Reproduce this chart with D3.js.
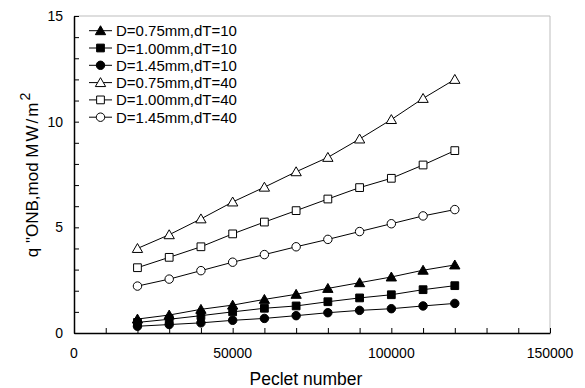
<!DOCTYPE html>
<html>
<head>
<meta charset="utf-8">
<script src="https://cdn.jsdelivr.net/npm/d3@7"></script>
<style>
  body { margin: 0; background: #fff; }
  text { font-family: Arial, "Liberation Sans", sans-serif; }
</style>
</head>
<body>
<script>
const pecletNumbers = [20000, 30000, 40000, 50000, 60000, 70000, 80000, 90000, 100000, 110000, 120000];

const d075dT10 = [0.66, 0.85, 1.12, 1.32, 1.59, 1.83, 2.11, 2.38, 2.65, 2.97, 3.22];
const d100dT10 = [0.50, 0.65, 0.82, 1.00, 1.17, 1.28, 1.48, 1.66, 1.81, 2.05, 2.24];
const d145dT10 = [0.32, 0.40, 0.48, 0.60, 0.69, 0.82, 0.96, 1.07, 1.15, 1.28, 1.40];
const d075dT40 = [4.00, 4.65, 5.40, 6.20, 6.90, 7.63, 8.31, 9.18, 10.10, 11.10, 12.00];
const d100dT40 = [3.09, 3.58, 4.08, 4.69, 5.25, 5.79, 6.34, 6.88, 7.32, 7.95, 8.63];
const d145dT40 = [2.22, 2.55, 2.95, 3.35, 3.71, 4.08, 4.43, 4.80, 5.17, 5.54, 5.84];

const seriesNames = ["D=0.75mm,dT=10", "D=1.00mm,dT=10", "D=1.45mm,dT=10",
                     "D=0.75mm,dT=40", "D=1.00mm,dT=40", "D=1.45mm,dT=40"];
const seriesValues = [d075dT10, d100dT10, d145dT10, d075dT40, d100dT40, d145dT40];
const seriesShapes = ["triangle", "square", "circle", "triangle", "square", "circle"];
const seriesFilled = [true, true, true, false, false, false];

const xTickLabels = [0, 50000, 100000, 150000];
const yTickLabels = [0, 5, 10, 15];

function main(){
    const width = 585, height = 388;
    const left = 74, right = 550, top = 16, bottom = 333;

    const svg = d3.select("body").append("svg")
        .attr("width", width)
        .attr("height", height);

    const x = d3.scaleLinear().domain([0, 150000]).range([left, right]);
    const y = d3.scaleLinear().domain([0, 15]).range([bottom, top]);

    // gray frame on top and right
    svg.append("path")
        .attr("d", `M${left},${top}H${right}V${bottom}`)
        .attr("fill", "none")
        .attr("stroke", "#bdbdbd")
        .attr("stroke-width", 1);

    // axes, ticks pointing inward
    const xAxis = svg.append("g")
        .attr("transform", `translate(0,${bottom})`)
        .call(d3.axisBottom(x).tickValues(d3.range(0, 150001, 10000))
            .tickSizeInner(-5).tickSizeOuter(0).tickFormat(""));
    const yAxis = svg.append("g")
        .attr("transform", `translate(${left},0)`)
        .call(d3.axisLeft(y).tickValues(d3.range(0, 16, 1))
            .tickSizeInner(-5).tickSizeOuter(0).tickFormat(""));
    [xAxis, yAxis].forEach(g => {
        g.select(".domain").attr("stroke", "#000").attr("stroke-width", 1.5);
        g.selectAll(".tick line").attr("stroke", "#000");
    });

    svg.append("g").selectAll("text")
        .data(xTickLabels).enter().append("text")
        .attr("x", d => x(d))
        .attr("y", 358)
        .attr("text-anchor", "middle")
        .attr("font-size", "14px")
        .text(d => d);

    svg.append("g").selectAll("text")
        .data(yTickLabels).enter().append("text")
        .attr("x", 63)
        .attr("y", d => y(d) + 5)
        .attr("text-anchor", "end")
        .attr("font-size", "14px")
        .text(d => d);

    // axis titles
    svg.append("text")
        .attr("x", 306)
        .attr("y", 385)
        .attr("text-anchor", "middle")
        .attr("font-size", "17.5px")
        .text("Peclet number");

    const yTitle = svg.append("text")
        .attr("transform", "translate(38,175) rotate(-90)")
        .attr("text-anchor", "middle")
        .attr("font-size", "17px");
    yTitle.append("tspan").text('q "ONB,mod ');
    yTitle.append("tspan").attr("letter-spacing", "2px").text("MW/m");
    yTitle.append("tspan").attr("dy", "-0.55em").attr("font-size", "14px").text("2");

    const symbolType = {triangle: d3.symbolTriangle, square: d3.symbolSquare, circle: d3.symbolCircle};
    const symbolSize = {triangle: 46, square: 60, circle: 56};

    function drawMarker(g, shape, filled, cx, cy){
        const sym = d3.symbol().type(symbolType[shape]).size(symbolSize[shape]);
        g.append("path")
            .attr("d", sym())
            .attr("transform", `translate(${cx},${cy + (shape === "triangle" ? 1 : 0)})`)
            .attr("fill", filled ? "#000" : "#fff")
            .attr("stroke", "#000")
            .attr("stroke-width", 1);
    }

    const line = d3.line()
        .x((d, i) => x(pecletNumbers[i]))
        .y(d => y(d));

    const plot = svg.append("g");
    seriesValues.forEach((vals, s) => {
        plot.append("path")
            .attr("d", line(vals))
            .attr("fill", "none")
            .attr("stroke", "#000")
            .attr("stroke-width", 1);
    });
    seriesValues.forEach((vals, s) => {
        vals.forEach((v, i) => drawMarker(plot, seriesShapes[s], seriesFilled[s], x(pecletNumbers[i]), y(v)));
    });

    // legend
    const legend = svg.append("g");
    seriesNames.forEach((name, i) => {
        const ly = 30.7 + i * 17.3;
        legend.append("line")
            .attr("x1", 89).attr("x2", 112)
            .attr("y1", ly).attr("y2", ly)
            .attr("stroke", "#000");
        drawMarker(legend, seriesShapes[i], seriesFilled[i], 100.5, ly);
        legend.append("text")
            .attr("x", 116)
            .attr("y", ly + 5.5)
            .attr("font-size", "15px")
            .text(name);
    });
}
main();
</script>
</body>
</html>
